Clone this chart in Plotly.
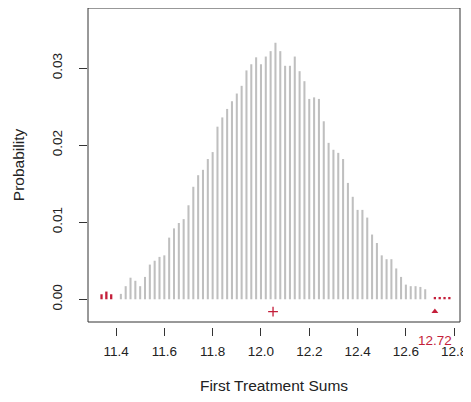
import plotly.graph_objects as go

# ---- data ----
grey_sums = [11.42, 11.44, 11.46, 11.48, 11.50, 11.52, 11.54, 11.56, 11.58, 11.60,
             11.62, 11.64, 11.66, 11.68, 11.70, 11.72, 11.74, 11.76, 11.78, 11.80,
             11.82, 11.84, 11.86, 11.88, 11.90, 11.92, 11.94, 11.96, 11.98, 12.00,
             12.02, 12.04, 12.06, 12.08, 12.10, 12.12, 12.14, 12.16, 12.18, 12.20,
             12.22, 12.24, 12.26, 12.28, 12.30, 12.32, 12.34, 12.36, 12.38, 12.40,
             12.42, 12.44, 12.46, 12.48, 12.50, 12.52, 12.54, 12.56, 12.58, 12.60,
             12.62, 12.64, 12.66, 12.68]
grey_prob = [0.0007, 0.0017, 0.0028, 0.0024, 0.0017, 0.0029, 0.0045, 0.0050, 0.0055, 0.0057,
             0.0080, 0.0092, 0.0099, 0.0104, 0.0122, 0.0146, 0.0161, 0.0168, 0.0182, 0.0191,
             0.0224, 0.0236, 0.0247, 0.0257, 0.0267, 0.0277, 0.0297, 0.0305, 0.0314, 0.0305,
             0.0315, 0.0322, 0.0333, 0.0322, 0.0303, 0.0303, 0.0315, 0.0296, 0.0283, 0.0260,
             0.0262, 0.0260, 0.0231, 0.0203, 0.0194, 0.0190, 0.0182, 0.0151, 0.0133, 0.0116,
             0.0116, 0.0106, 0.0084, 0.0073, 0.0057, 0.0052, 0.0052, 0.0040, 0.0029, 0.0019,
             0.0017, 0.0017, 0.0016, 0.0013]
red_low_sums = [11.34, 11.36, 11.38]
red_low_prob = [0.00065, 0.0010, 0.00065]
red_high_sums = [12.72, 12.74, 12.76, 12.78]
red_high_prob = [0.0003, 0.0003, 0.0003, 0.0003]
mean_sum = 12.05
observed_sum = 12.72
observed_label = "12.72"
marker_level = -0.0016

x_ticks = [11.4, 11.6, 11.8, 12.0, 12.2, 12.4, 12.6, 12.8]
x_tick_labels = ["11.4", "11.6", "11.8", "12.0", "12.2", "12.4", "12.6", "12.8"]
y_ticks = [0.0, 0.01, 0.02, 0.03]
y_tick_labels = ["0.00", "0.01", "0.02", "0.03"]

GREY = "#bfbfbf"
RED = "#c41e3a"
AXC = "#333333"
TXT = "#222222"
FONT = "Liberation Sans, Arial, sans-serif"

fig = go.Figure()
fig.add_trace(go.Bar(x=grey_sums, y=grey_prob, width=0.0085,
                     marker=dict(color=GREY, line=dict(width=0)), showlegend=False))
fig.add_trace(go.Bar(x=red_low_sums, y=red_low_prob, width=0.0095,
                     marker=dict(color=RED, line=dict(width=0)), showlegend=False))
fig.add_trace(go.Bar(x=red_high_sums, y=red_high_prob, width=0.0095,
                     marker=dict(color=RED, line=dict(width=0)), showlegend=False))
fig.add_trace(go.Scatter(x=[mean_sum], y=[marker_level], mode="markers",
                         marker=dict(symbol="cross-thin", size=7,
                                     line=dict(color=RED, width=1.3)),
                         xaxis="x2", showlegend=False))
fig.add_trace(go.Scatter(x=[observed_sum], y=[marker_level], mode="markers",
                         marker=dict(symbol="triangle-up", size=6, color=RED),
                         xaxis="x2", showlegend=False))

# the page body adds an 8px offset, so the figure is sized to fit the window
fig.update_layout(
    width=455, height=386,
    margin=dict(l=80, r=3, t=0, b=67, autoexpand=False),
    paper_bgcolor="white", plot_bgcolor="white",
    font=dict(family=FONT, size=13.5, color=TXT),
    barmode="overlay",
    xaxis=dict(range=[11.284, 12.824], showline=False, ticks="",
               showticklabels=False, showgrid=False, zeroline=False,
               automargin=False),
    xaxis2=dict(overlaying="x", matches="x", anchor="free", position=0, side="bottom",
                tickmode="array", tickvals=x_ticks, ticktext=x_tick_labels,
                ticks="outside", ticklen=8, tickcolor=AXC, tickwidth=1,
                ticklabelstandoff=4, ticklabeloverflow="allow",
                showline=False, showgrid=False, zeroline=False, automargin=False,
                tickfont=dict(size=13.5, family=FONT, color=TXT),
                title=dict(text="First Treatment Sums", standoff=25,
                           font=dict(size=15.5, family=FONT, color=TXT))),
    yaxis=dict(domain=[5 / 319, 1], range=[-0.00295, 0.0378], showline=False,
               automargin=False,
               tickmode="array", tickvals=y_ticks, ticktext=y_tick_labels,
               ticks="outside", ticklen=8, tickcolor=AXC, tickangle=-90,
               ticklabelstandoff=12, showgrid=False, zeroline=False,
               tickfont=dict(size=13.5, family=FONT, color=TXT),
               title=dict(text="Probability", standoff=21,
                          font=dict(size=15.5, family=FONT, color=TXT))),
    shapes=[dict(type="rect", xref="x domain", yref="y domain",
                 x0=0, x1=1, y0=0, y1=1, layer="above",
                 line=dict(color=AXC, width=1), fillcolor="rgba(0,0,0,0)")],
    annotations=[dict(x=observed_sum, xref="x", y=-0.0408, yref="paper",
                      text=observed_label, showarrow=False, yanchor="middle",
                      font=dict(size=13.5, family=FONT, color=RED))],
)

fig.write_html("out.html")
